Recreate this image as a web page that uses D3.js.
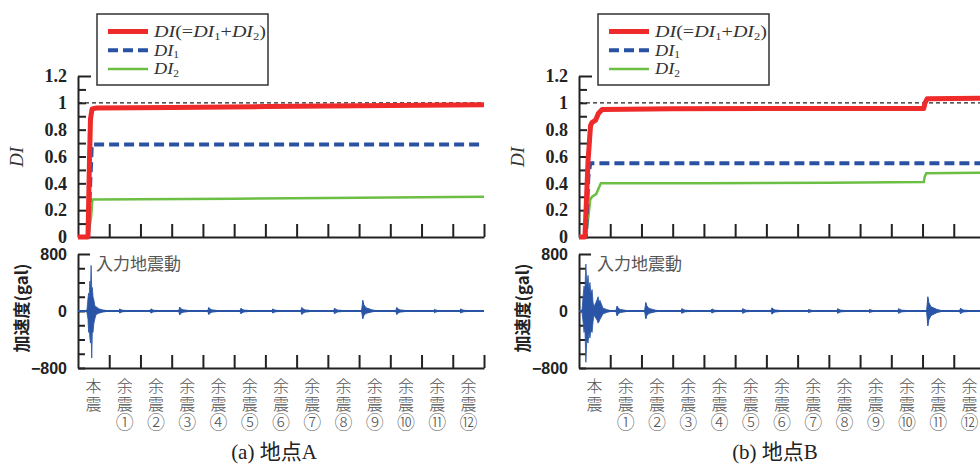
<!DOCTYPE html>
<html><head><meta charset="utf-8">
<script src="https://cdn.jsdelivr.net/npm/d3@7"></script>
<style>body{margin:0;background:#fff}svg{display:block}</style>
</head><body>
<svg id="c" width="980" height="464"></svg>
<script>
// ---------- data ----------
const categories = ["本震","余震①","余震②","余震③","余震④","余震⑤","余震⑥","余震⑦","余震⑧","余震⑨","余震⑩","余震⑪","余震⑫"];
const diTicks = [0,0.1,0.2,0.3,0.4,0.5,0.6,0.7,0.8,0.9,1.0,1.1,1.2];
const diTickLabels = {"0":"0","0.2":"0.2","0.4":"0.4","0.6":"0.6","0.8":"0.8","1":"1","1.2":"1.2"};
const accTicks = [-800,-600,-400,-200,0,200,400,600,800];
const accTickLabels = {"-800":"−800","0":"0","800":"800"};
const panelTitles = ["(a) 地点A","(b) 地点B"];

// time in category units (interval i spans [i, i+1]), value DI
const diA = [[0,0],[0.32,0],[0.37,0.6],[0.4,0.88],[0.45,0.955],[0.6,0.962],[3,0.965],[6,0.972],[9,0.978],[11,0.982],[13,0.985]];
const di1A = [[0,0],[0.32,0],[0.4,0.45],[0.42,0.55],[0.44,0.69],[13,0.69]];
const di2A = [[0,0],[0.32,0],[0.42,0.15],[0.46,0.28],[5,0.285],[8,0.29],[13,0.3]];

const diB = [[0,0],[0.19,0],[0.29,0.57],[0.37,0.83],[0.42,0.855],[0.53,0.87],[0.62,0.92],[0.74,0.95],[3,0.955],[6,0.957],[11.04,0.958],[11.08,1.0],[11.15,1.03],[13,1.035]];
const di1B = [[0,0],[0.22,0],[0.3,0.45],[0.36,0.55],[13,0.55]];
const di2B = [[0,0],[0.22,0],[0.3,0.15],[0.36,0.28],[0.42,0.3],[0.55,0.32],[0.7,0.4],[4,0.4],[8,0.405],[11.04,0.41],[11.07,0.45],[11.12,0.475],[13,0.48]];

// main shock acceleration envelope: [t, max, min] (gal)
const accMainA = [[0.27,0,0],[0.29,30,-30],[0.32,180,-120],[0.34,250,-300],[0.36,200,-220],[0.38,420,-380],[0.40,300,-450],[0.42,640,-300],[0.44,300,-660],[0.46,330,-280],[0.48,200,-300],[0.51,150,-170],[0.54,70,-110],[0.58,60,-50],[0.67,30,-30],[0.8,15,-15],[1.0,0,0]];
const accMainB = [[0.08,0,0],[0.1,30,-30],[0.13,200,-150],[0.16,350,-300],[0.19,300,-250],[0.22,660,-720],[0.25,350,-400],[0.29,500,-450],[0.32,300,-300],[0.35,400,-380],[0.38,250,-280],[0.42,300,-300],[0.45,120,-150],[0.48,60,-60],[0.54,120,-100],[0.58,160,-130],[0.61,200,-170],[0.64,130,-150],[0.67,150,-120],[0.77,40,-40],[0.93,15,-15],[1.1,0,0]];
// aftershock bursts: [t, max, min]
const accAftA = [[1.34,30,-30],[2.34,30,-30],[3.26,55,-55],[4.19,50,-50],[5.22,40,-40],[6.24,30,-30],[7.17,50,-50],[8.22,40,-40],[9.12,150,-110],[10.21,50,-50],[11.42,25,-25],[12.26,30,-30]];
const accAftB = [[1.22,70,-70],[2.14,120,-110],[3.30,35,-35],[4.26,30,-30],[5.25,35,-35],[6.18,45,-45],[7.36,25,-25],[8.29,35,-35],[9.31,25,-25],[10.24,35,-35],[11.17,200,-210],[12.22,40,-40]];

const legendItems = [
  {key:"DI", color:"#ee2a2a", width:5, dash:null, len:112},
  {key:"DI1", color:"#2a52a3", width:4, dash:"10,5", len:25},
  {key:"DI2", color:"#6cbf45", width:2.5, dash:null, len:25}
];

// ---------- drawing ----------
const svg = d3.select("#c");
const BLUE = "#2a55a6";
const W = 980;

function drawPanel(x0, site, idx){
  const g = svg.append("g");
  const x = d3.scaleLinear().domain([0,13]).range([x0, x0+406]);
  const yDI = d3.scaleLinear().domain([0,1.2]).range([237,76]);
  const yAcc = d3.scaleLinear().domain([-800,800]).range([368,254]);

  // DI=1 reference dashed line
  g.append("line").attr("x1",x(0)).attr("x2",x(13)).attr("y1",yDI(1)).attr("y2",yDI(1))
    .attr("stroke","#222").attr("stroke-width",1.3).attr("stroke-dasharray","4,3");

  // DI axes
  const yAx = d3.axisLeft(yDI).tickValues(diTicks).tickSizeInner(-8).tickSizeOuter(0).tickPadding(11)
    .tickFormat(d => diTickLabels[String(+d.toFixed(1))] || "");
  const ga = g.append("g").attr("transform",`translate(${x0},0)`).call(yAx);
  ga.selectAll("text").attr("font-family","'Liberation Serif',serif").attr("font-weight","bold").attr("font-size",18).attr("fill","#222");
  ga.selectAll("line").attr("stroke","#222").attr("stroke-width",2);
  ga.select(".domain").attr("stroke","#222").attr("stroke-width",2);
  ga.selectAll(".tick").filter(d=>d===1.2).select("line").attr("x2",13);

  const xAx = d3.axisBottom(x).tickValues(d3.range(1,14)).tickSizeInner(-13).tickSizeOuter(0).tickFormat("");
  const gx = g.append("g").attr("transform","translate(0,237)").call(xAx);
  gx.selectAll("line").attr("stroke","#222").attr("stroke-width",2);
  gx.select(".domain").attr("stroke","#222").attr("stroke-width",2);

  // DI series
  const line = d3.line().x(d=>x(d[0])).y(d=>yDI(d[1]));
  g.append("path").datum(site.di2).attr("d",line).attr("fill","none").attr("stroke","#6cbf45").attr("stroke-width",2.5);
  g.append("path").datum(site.di1).attr("d",line).attr("fill","none").attr("stroke","#2a52a3").attr("stroke-width",4).attr("stroke-dasharray","10,5");
  g.append("path").datum(site.di).attr("d",line).attr("fill","none").attr("stroke","#ee2a2a").attr("stroke-width",5).attr("stroke-linejoin","round");

  // acc axes
  const aAx = d3.axisLeft(yAcc).tickValues(accTicks).tickSizeInner(-7).tickSizeOuter(0).tickPadding(11)
    .tickFormat(d => accTickLabels[String(d)] || "");
  const gaa = g.append("g").attr("transform",`translate(${x0},0)`).call(aAx);
  gaa.selectAll("text").attr("font-family","'Liberation Sans',sans-serif").attr("font-weight","bold").attr("font-size",16).attr("fill","#222");
  gaa.selectAll("line").attr("stroke","#222").attr("stroke-width",2);
  gaa.select(".domain").attr("stroke","#222").attr("stroke-width",2);
  gaa.selectAll(".tick").filter(d=>d===800).select("line").attr("x2",12);

  const gx2 = g.append("g").attr("transform","translate(0,368)").call(xAx);
  gx2.selectAll("line").attr("stroke","#222").attr("stroke-width",2);
  gx2.select(".domain").attr("stroke","#222").attr("stroke-width",2);

  // acceleration
  g.append("line").attr("x1",x(0)).attr("x2",x(13)).attr("y1",yAcc(0)).attr("y2",yAcc(0))
    .attr("stroke",BLUE).attr("stroke-width",2.2);
  const area = d3.area().x(d=>x(d[0])).y0(d=>yAcc(d[2])).y1(d=>yAcc(d[1]));
  g.append("path").datum(site.accMain).attr("d",area).attr("fill",BLUE).attr("stroke",BLUE).attr("stroke-width",0.8);
  const prof = [[-0.04,0],[0,1],[0.03,0.6],[0.1,0.3],[0.3,0.1],[0.5,0]];
  site.accAft.forEach(e=>{
    const pts = prof.map(p=>[e[0]+p[0], Math.max(e[1]*p[1],6*(p[1]>0)), Math.min(e[2]*p[1],-6*(p[1]>0))]);
    g.append("path").datum(pts).attr("d",area).attr("fill",BLUE).attr("stroke",BLUE).attr("stroke-width",1);
  });

  g.append("text").attr("x",x0+18).attr("y",270).text("入力地震動")
    .attr("font-family","'Noto Sans CJK JP',sans-serif").attr("font-size",17).attr("fill","#555");

  // category labels (vertical writing)
  categories.forEach((c,i)=>{
    const chars = Array.from(c);
    const cx = x(i+0.5);
    const t = g.append("text").attr("x",cx).attr("y",378)
      .style("writing-mode","vertical-rl").style("text-orientation","upright")
      .attr("letter-spacing",1.5)
      .attr("font-family","'Noto Sans CJK JP',sans-serif")
      .attr("font-size",16).attr("font-weight",300).attr("fill","#555");
    if(chars.length>2 && cx+10 <= W){
      t.append("tspan").text(chars.slice(0,2).join(""));
      t.append("tspan").attr("font-size",18).text(chars[2]);
    } else {
      t.text(c);
    }
  });

  // axis titles
  g.append("text").attr("transform",`translate(${x0-55},157) rotate(-90)`).attr("text-anchor","middle")
    .attr("font-family","'Liberation Serif',serif").attr("font-style","italic").attr("font-size",19).attr("fill","#333").text("DI");
  g.append("text").attr("transform",`translate(${x0-50},308) rotate(-90)`).attr("text-anchor","middle")
    .attr("font-family","'Noto Sans CJK JP',sans-serif").attr("font-weight","bold").attr("font-size",17).attr("fill","#222").text("加速度(gal)");

  // legend
  const lx = x0+19;
  g.append("rect").attr("x",lx).attr("y",14).attr("width",171).attr("height",71).attr("fill","#fff").attr("stroke","#333").attr("stroke-width",1.5);
  legendItems.forEach((it,i)=>{
    const yy = 31.5 + i*18.7;
    g.append("line").attr("x1",lx+11).attr("x2",lx+51).attr("y1",yy).attr("y2",yy)
      .attr("stroke",it.color).attr("stroke-width",it.width).attr("stroke-dasharray",it.dash);
    const t = g.append("text").attr("x",lx+57).attr("y",yy+5.5).attr("font-family","'Liberation Serif',serif").attr("font-size",16)
      .attr("textLength",it.len).attr("lengthAdjust","spacingAndGlyphs").attr("fill","#333");
    const it_ = s=>t.append("tspan").attr("font-style","italic").text(s);
    const sub = s=>t.append("tspan").attr("font-size",10).attr("dy",2.5).text(s);
    const up = s=>t.append("tspan").attr("dy",-2.5).text(s);
    if(it.key==="DI"){
      it_("DI"); t.append("tspan").text("(="); it_("DI"); sub("1"); up("+"); it_("DI"); sub("2"); up(")");
    } else if(it.key==="DI1"){ it_("DI"); sub("1"); }
    else { it_("DI"); sub("2"); }
  });

  // panel title
  g.append("text").attr("x",x0+196).attr("y",459).attr("text-anchor","middle")
    .attr("font-family","'Liberation Serif','Noto Sans CJK JP',serif").attr("font-size",21).attr("fill","#222").text(panelTitles[idx]);
}

drawPanel(78, {di:diA, di1:di1A, di2:di2A, accMain:accMainA, accAft:accAftA}, 0);
drawPanel(579, {di:diB, di1:di1B, di2:di2B, accMain:accMainB, accAft:accAftB}, 1);
</script>
</body></html>
